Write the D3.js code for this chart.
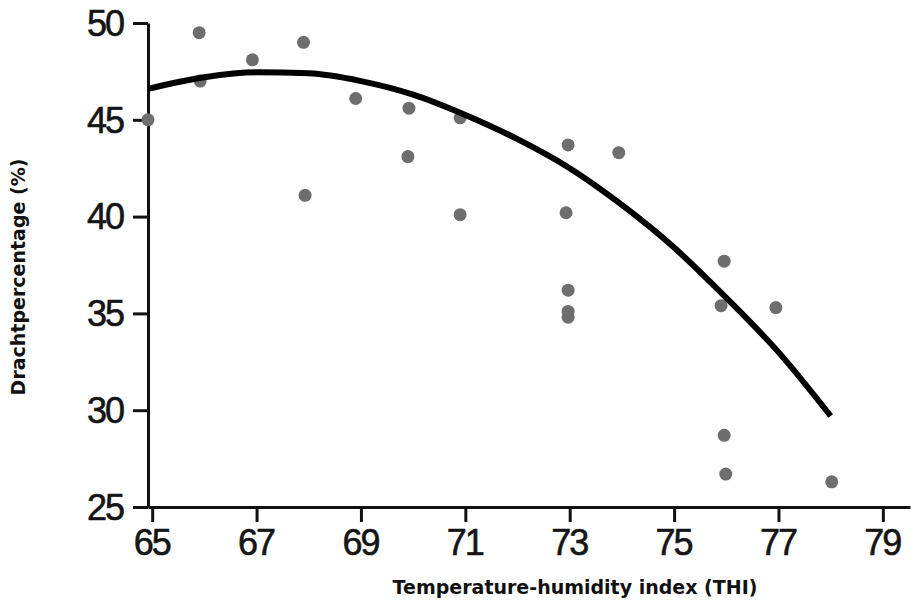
<!DOCTYPE html>
<html>
<head>
<meta charset="utf-8">
<script src="https://cdn.jsdelivr.net/npm/d3@7"></script>
<style>
  html, body { margin: 0; padding: 0; background: #fff; }
  svg { display: block; }
</style>
</head>
<body>
<svg id="chart" width="914" height="607"></svg>
<script>
// Observed points (THI, pregnancy %)
const thi = [64.92, 65.9, 65.92, 66.92, 67.9, 67.93, 68.9, 69.92, 69.9, 70.9, 70.9,
             72.97, 72.93, 72.97, 72.97, 72.97, 73.94, 75.96, 75.9, 76.95, 75.96, 75.99, 78.02];
const pregnancy = [45.0, 49.5, 47.0, 48.1, 49.0, 41.1, 46.1, 45.6, 43.1, 45.1, 40.1,
                   43.7, 40.2, 36.2, 35.1, 34.8, 43.3, 37.7, 35.4, 35.3, 28.7, 26.7, 26.3];
// Fitted curve
const curveThi = [64.92, 66, 67, 68, 69, 70, 71, 72, 73, 74, 75, 76, 77, 78];
const curveVal = [46.6, 47.2, 47.45, 47.4, 47.0, 46.3, 45.25, 44.0, 42.5, 40.6, 38.4, 35.8, 33.0, 29.7];
// Ticks
const xTicks = [65, 67, 69, 71, 73, 75, 77, 79];
const yTicks = [25, 30, 35, 40, 45, 50];
const xTitle = "Temperature-humidity index (THI)";
const yTitle = "Drachtpercentage (%)";

const svg = d3.select("#chart");
const x = d3.scaleLinear().domain([64.92, 79.52]).range([148, 910]);
const y = d3.scaleLinear().domain([25, 50]).range([507, 23]);

const tickFont = "'Liberation Sans', Arial, sans-serif";

// X axis
const gx = svg.append("g")
  .attr("transform", `translate(0,${y(25)})`)
  .call(d3.axisBottom(x).tickValues(xTicks).tickFormat(d3.format("d"))
        .tickSize(15).tickSizeOuter(0).tickPadding(7));
// Y axis
const gy = svg.append("g")
  .attr("transform", `translate(${x(64.92)},0)`)
  .call(d3.axisLeft(y).tickValues(yTicks).tickFormat(d3.format("d"))
        .tickSize(15).tickSizeOuter(0).tickPadding(10));

[gx, gy].forEach(g => {
  g.selectAll("path.domain").attr("stroke", "#111").attr("stroke-width", 3);
  g.selectAll(".tick line").attr("stroke", "#111").attr("stroke-width", 3);
  g.selectAll(".tick text")
    .attr("fill", "#151515")
    .attr("stroke", "#151515")
    .attr("stroke-width", 0.6)
    .style("font-family", tickFont)
    .style("font-size", "36px")
    .style("letter-spacing", "-2px");
});
gx.selectAll(".tick text").attr("dx", "-1px");
gy.selectAll(".tick text").attr("dy", "0.34em");

// Points
svg.append("g").selectAll("circle")
  .data(thi.map((t, i) => [t, pregnancy[i]]))
  .join("circle")
  .attr("cx", d => x(d[0]))
  .attr("cy", d => y(d[1]))
  .attr("r", 6.5)
  .attr("fill", "#6e6e6e");

// Fitted curve
const line = d3.line()
  .x(d => x(d[0]))
  .y(d => y(d[1]))
  .curve(d3.curveMonotoneX);
svg.append("path")
  .datum(curveThi.map((t, i) => [t, curveVal[i]]))
  .attr("d", line)
  .attr("fill", "none")
  .attr("stroke", "#000")
  .attr("stroke-width", 6);

// Axis titles
svg.append("text")
  .attr("x", 575).attr("y", 594)
  .attr("text-anchor", "middle")
  .style("font-family", "'DejaVu Sans', Verdana, sans-serif")
  .style("font-weight", "bold")
  .style("font-size", "19px")
  .attr("fill", "#111")
  .text(xTitle);

svg.append("text")
  .attr("transform", "translate(25,277) rotate(-90)")
  .attr("text-anchor", "middle")
  .style("font-family", "'DejaVu Sans', Verdana, sans-serif")
  .style("font-weight", "bold")
  .style("font-size", "19px")
  .attr("fill", "#111")
  .text(yTitle);
</script>
</body>
</html>
